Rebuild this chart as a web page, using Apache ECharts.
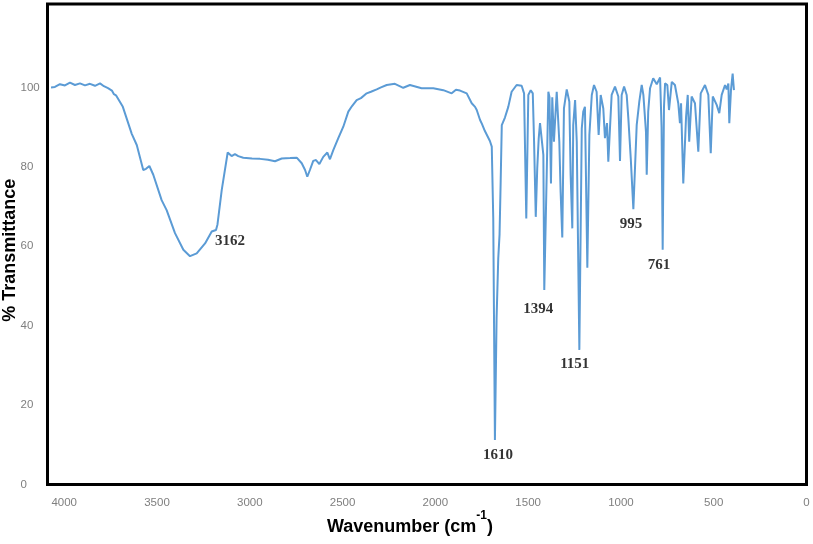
<!DOCTYPE html>
<html>
<head>
<meta charset="utf-8">
<script src="https://cdn.jsdelivr.net/npm/echarts@6/dist/echarts.min.js"></script>
<style>
html,body{margin:0;padding:0;background:#fff;}
#chart{width:813px;height:544px;}
</style>
</head>
<body>
<div id="chart"></div>
<script>
// Wavenumber (cm-1)
const wavenumber = [4071,4050,4023,3996,3969,3942,3915,3888,3861,3834,3807,3786,3764,3743,3732,3721,3684,3636,3609,3574,3559,3541,3520,3475,3448,3403,3358,3322,3286,3241,3205,3182,3174,3151,3119,3098,3080,3062,3035,2988,2945,2902,2864,2828,2783,2747,2720,2702,2690,2676,2658,2643,2625,2604,2582,2568,2550,2523,2496,2469,2449,2424,2401,2370,2347,2316,2293,2262,2218,2173,2137,2074,2011,1957,1912,1889,1867,1831,1804,1786,1777,1759,1749,1733,1706,1696,1688,1679,1670,1661,1654,1648,1642,1625,1607,1589,1562,1535,1522,1510,1499,1486,1475,1468,1459,1451,1443,1436,1429,1418,1413,1400,1391,1385,1377,1370,1361,1346,1332,1325,1316,1307,1292,1278,1271,1262,1257,1247,1238,1224,1211,1203,1194,1181,1170,1157,1145,1131,1120,1109,1095,1086,1075,1068,1050,1032,1014,1005,996,983,969,960,947,933,915,901,888,879,865,861,853,843,826,807,789,781,775,768,762,750,741,726,709,691,682,676,664,649,640,632,619,601,583,570,547,529,516,505,484,470,457,439,430,421,416,407,398,391];
// % Transmittance
const transmittance = [100.0,100.1,100.8,100.5,101.2,100.6,101.0,100.5,100.9,100.4,101.0,100.3,99.8,99.2,98.3,98.0,95.1,88.3,85.5,79.2,79.5,80.2,78.0,71.6,69.1,63.3,59.1,57.5,58.2,60.7,63.7,64.1,65.5,74.2,83.6,82.7,83.2,82.7,82.3,82.1,82.0,81.8,81.4,82.1,82.2,82.3,80.9,79.2,77.5,79.2,81.5,81.7,80.7,82.5,83.6,81.9,84.2,87.2,90.1,93.9,95.3,96.8,97.3,98.5,98.9,99.5,100.0,100.6,100.9,99.9,100.6,99.8,99.8,99.3,98.5,99.4,99.2,98.5,96.0,95.1,94.3,91.8,90.8,89.0,86.5,85.1,67.0,11.2,42.0,57.0,63.0,76.3,90.5,92.4,95.1,98.9,100.6,100.4,98.5,67.0,98.1,99.3,98.5,86.3,67.4,79.6,87.2,91.0,90.5,83.0,49.0,78.0,98.9,97.5,75.8,97.5,86.3,98.9,86.3,73.7,62.2,94.7,99.5,96.4,78.0,64.5,90.5,96.8,86.3,33.9,89.7,93.9,95.1,54.6,88.0,98.1,100.6,98.9,88.0,98.1,94.7,87.2,91.0,81.3,98.1,100.2,97.7,81.5,98.1,100.2,98.1,92.2,82.1,69.3,90.5,96.4,100.6,98.1,88.8,78.0,93.9,99.8,102.3,100.8,102.5,90.0,59.1,95.0,101.0,100.6,94.3,101.4,100.6,96.0,91.0,96.0,75.8,92.6,98.1,86.3,97.7,96.0,83.8,98.5,100.6,98.1,83.4,97.7,95.6,93.5,98.1,100.6,99.5,101.0,91.0,99.3,103.5,99.3];
// Peak annotations: label text and where the label sits (data units)
const peakLabels = ['3162','1610','1394','1151','995','761'];
const peakLabelX = [3107,1662,1445,1249,946,795];
const peakLabelY = [61.3,7.4,44.2,30.3,65.5,55.3];
const xTicks = [0,500,1000,1500,2000,2500,3000,3500,4000];
const yTicks = [0,20,40,60,80,100];

const lineData = wavenumber.map((w,i)=>[w, transmittance[i]]);
const labelData = peakLabels.map((t,i)=>[peakLabelX[i], peakLabelY[i], t]);

const chart = echarts.init(document.getElementById('chart'), null, {renderer:'canvas'});
chart.setOption({
  animation:false,
  backgroundColor:'#ffffff',
  grid:{left:47.5, right:6.5, top:4, bottom:59.5, containLabel:false, outerBoundsMode:'none',
    show:true, borderColor:'#000', borderWidth:3, backgroundColor:'transparent'},
  xAxis:{
    type:'value', min:0, max:4090, interval:500, inverse:true,
    axisLine:{show:false}, axisTick:{show:false}, splitLine:{show:false},
    axisLabel:{margin:12, color:'#7f7f7f', fontFamily:'Liberation Sans', fontSize:11.5,
      formatter:v=> xTicks.includes(v) ? String(v) : ''},
    name:'{t|Wavenumber (cm}{s|-1}{t|)}', nameLocation:'middle', nameGap:25.5, nameMoveOverlap:false,
    nameTextStyle:{padding:[0,34,0,0],
      rich:{
        t:{fontFamily:'Liberation Sans', fontWeight:'bold', fontSize:18, color:'#000', lineHeight:26, verticalAlign:'bottom'},
        s:{fontFamily:'Liberation Sans', fontWeight:'bold', fontSize:12, color:'#000', lineHeight:26, verticalAlign:'top'}
      }}
  },
  yAxis:{
    type:'value', min:0, max:121, interval:20,
    axisLine:{show:false}, axisTick:{show:false}, splitLine:{show:false},
    axisLabel:{margin:27, align:'left', color:'#7f7f7f', fontFamily:'Liberation Sans', fontSize:11.5,
      formatter:v=> yTicks.includes(v) ? String(v) : ''},
    name:'% Transmittance', nameLocation:'middle', nameGap:28.5, nameMoveOverlap:false,
    nameTextStyle:{fontFamily:'Liberation Sans', fontWeight:'bold', fontSize:18, color:'#000', padding:[0,12,0,0]}
  },
  series:[
    {type:'line', data:lineData, showSymbol:false, symbol:'none', smooth:false,
      lineStyle:{color:'#5B9BD5', width:2}, itemStyle:{color:'#5B9BD5'}, silent:true, z:2},
    {type:'scatter', data:labelData, symbolSize:0, silent:true, z:3,
      label:{show:true, position:'inside', formatter:p=>p.value[2],
        fontFamily:'Liberation Serif', fontWeight:'bold', fontSize:15, color:'#000'}}
  ]
});
</script>
</body>
</html>
